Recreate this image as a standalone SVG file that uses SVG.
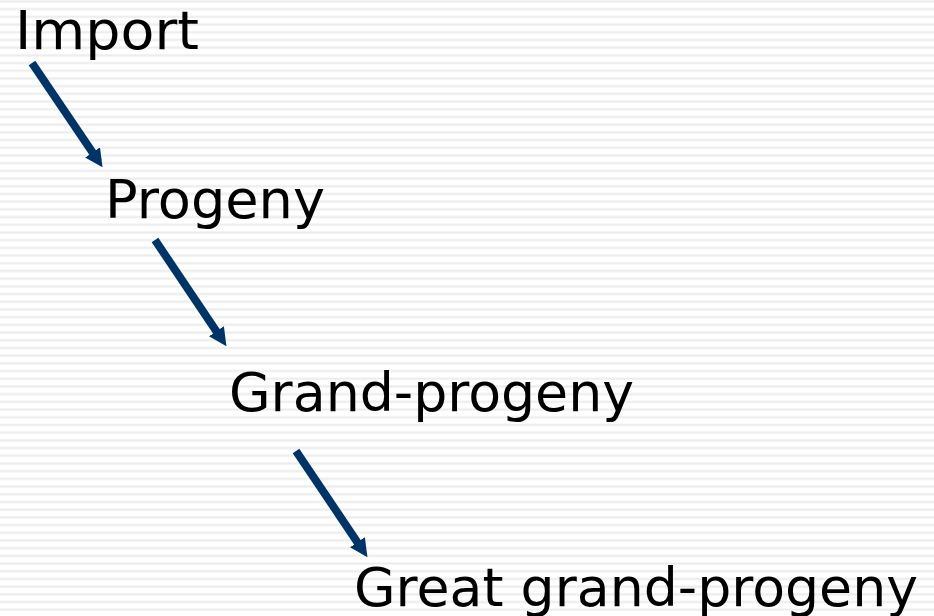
<svg xmlns="http://www.w3.org/2000/svg" width="934" height="616" viewBox="0 0 934 616">
  <defs>
    <pattern id="stripes" patternUnits="userSpaceOnUse" x="0" y="0" width="934" height="7.7">
      <rect x="0" y="0.6" width="934" height="1" fill="#e0e0e0"/>
      <rect x="0" y="1.6" width="934" height="1" fill="#eeeeee"/>
    </pattern>
    <marker id="head" viewBox="0 0 18 18" refX="5" refY="9" markerWidth="18" markerHeight="18" markerUnits="userSpaceOnUse" orient="auto">
      <path d="M0,0 L18,9 L0,18 Z" fill="#003366"/>
    </marker>
  </defs>
  <style>
    .lbl { font-family: "DejaVu Sans", Verdana, sans-serif; font-size: 54px; fill: #000; }
    .arrow { stroke: #003366; stroke-width: 8; fill: none; marker-end: url(#head); }
  </style>
  <rect width="934" height="616" fill="#ffffff"/>
  <rect width="934" height="616" fill="url(#stripes)"/>
  <g id="connectors">
    <line class="arrow" x1="32" y1="63" x2="95.3" y2="156.6"/>
    <line class="arrow" x1="155" y1="240" x2="219.2" y2="335.4"/>
    <line class="arrow" x1="296" y1="451" x2="360.2" y2="546.4"/>
  </g>
  <g id="import"><text class="lbl" x="15" y="49" textLength="184" lengthAdjust="spacingAndGlyphs">Import</text></g>
  <g id="progeny"><text class="lbl" x="105" y="218" textLength="220" lengthAdjust="spacingAndGlyphs">Progeny</text></g>
  <g id="grand-progeny"><text class="lbl" x="229" y="411" textLength="405" lengthAdjust="spacingAndGlyphs">Grand-progeny</text></g>
  <g id="great-grand-progeny"><text class="lbl" x="354" y="606" textLength="564" lengthAdjust="spacingAndGlyphs">Great grand-progeny</text></g>
</svg>
